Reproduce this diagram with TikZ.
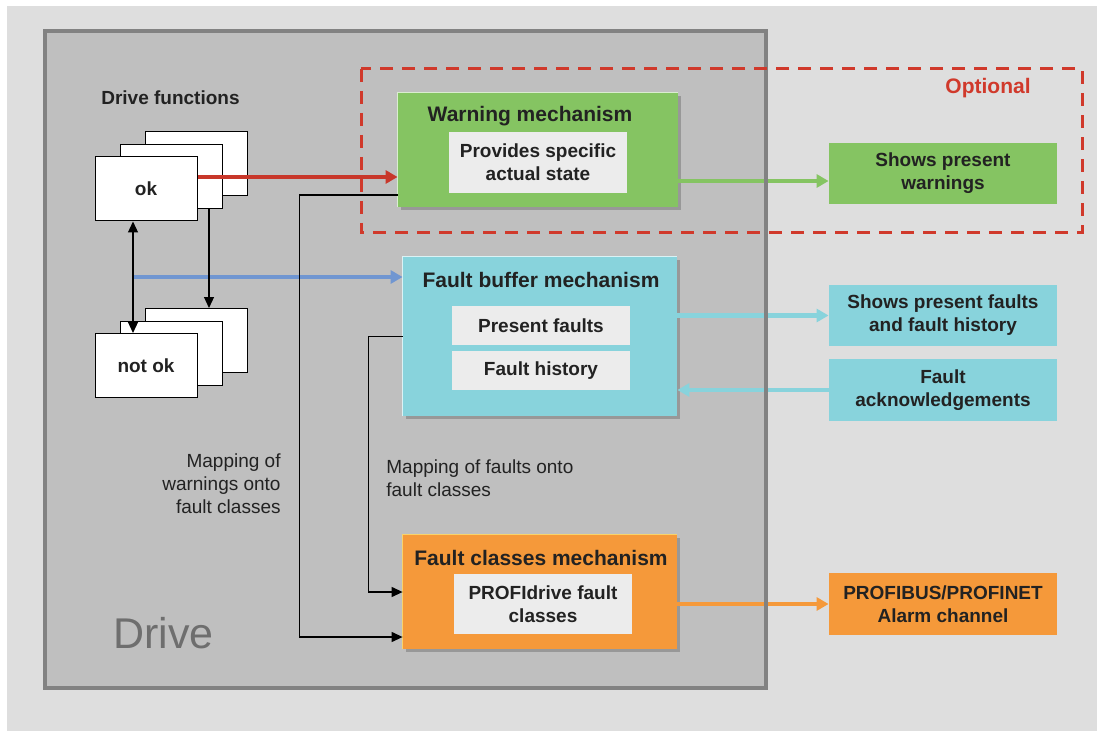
\documentclass[tikz,border=0pt]{standalone}
\usepackage{fontspec}
\setmainfont{Liberation Sans}
\usetikzlibrary{arrows.meta,shadows}

\definecolor{bgback}{HTML}{DEDEDE}
\definecolor{drivefill}{HTML}{BFBFBF}
\definecolor{driveborder}{HTML}{828282}
\definecolor{drivegray}{HTML}{6E6E6E}
\definecolor{textdark}{HTML}{222222}
\definecolor{innergray}{HTML}{ECECEC}
\definecolor{warngreen}{HTML}{85C462}
\definecolor{faultcyan}{HTML}{88D3DC}
\definecolor{classorange}{HTML}{F5993A}
\definecolor{optred}{HTML}{D0392B}
\definecolor{arrowred}{HTML}{C8372A}
\definecolor{arrowblue}{HTML}{7096D1}

\newcommand{\mechtitlefont}{\fontsize{10.5}{12.6}\selectfont\bfseries}
\newcommand{\boxtextfont}{\fontsize{9.5}{11.5}\selectfont\bfseries}
\newcommand{\maptextfont}{\fontsize{9.5}{11.5}\selectfont}

\begin{document}
\begin{tikzpicture}[x=0.5pt,y=-0.5pt,
  stacknode/.style={rectangle, draw=black, line width=0.5pt, fill=white, minimum width=51pt, minimum height=32pt, font=\boxtextfont, text=textdark},
  mechnode/.style={rectangle, minimum width=137pt, minimum height=57pt, drop shadow={shadow xshift=1.5pt, shadow yshift=-1.5pt, opacity=0.2, fill=black}},
  titlenode/.style={font=\mechtitlefont, text=textdark, inner sep=0pt},
  innernode/.style={rectangle, fill=innergray, minimum width=89pt, minimum height=30.5pt, align=center, font=\boxtextfont, text=textdark, inner sep=0pt},
  outnode/.style={rectangle, minimum width=114pt, minimum height=31pt, align=center, font=\boxtextfont, text=textdark, inner sep=0pt},
  maplabel/.style={font=\maptextfont, text=textdark, inner sep=0pt},
  plainarrow/.style={-{Triangle[length=5.5pt,width=5pt]}, line width=0.6pt},
  fatarrow/.style={-{Triangle[length=6pt,width=6.5pt]}, line width=2.4pt},
]

\useasboundingbox (0,0) rectangle (1099,733);
\fill[white] (0,0) rectangle (1099,733);
\fill[bgback] (7,6) rectangle (1097,731);
\fill[drivefill] (45,31) rectangle (766,688);

\node[font=\boxtextfont, text=textdark] (funcs) at (170.5,98) {Drive functions};
\node[anchor=base west, font=\fontsize{21.5}{24}\selectfont, text=drivegray, inner sep=0pt] (drivelabel) at (113,648) {Drive};
\node[font=\mechtitlefont, text=optred] (optlabel) at (988,88) {Optional};

\node[stacknode] (ok3) at (196.5,163.5) {};
\node[stacknode] (ok2) at (171.5,176.5) {};
\node[stacknode] (ok) at (146,189) {ok};
\node[stacknode] (notok3) at (196.5,340.5) {};
\node[stacknode] (notok2) at (171.5,353) {};
\node[stacknode] (notok) at (146,365.5) {not ok};

\node[mechnode, fill=warngreen, minimum width=140pt] (warn) at (538,150) {};
\node[mechnode, fill=faultcyan, minimum height=79.5pt] (buffer) at (540,336.5) {};
\node[mechnode, fill=classorange] (classes) at (540,592) {};
\draw[white!70!warngreen, line width=0.8pt] (warn.south west) |- (warn.north east);
\draw[white!70!faultcyan, line width=0.8pt] (buffer.south west) |- (buffer.north east);
\draw[white!55!yellow!60!classorange, line width=0.8pt] (classes.south west) |- (classes.north east);

\node[titlenode] (warntitle) at (530,116) {Warning mechanism};
\node[innernode] (warnstate) at (538,162.5) {Provides specific\\actual state};
\node[titlenode] (buffertitle) at (541,280) {Fault buffer mechanism};
\node[innernode, minimum height=19.5pt] (present) at (541,325.5) {Present faults};
\node[innernode, minimum height=19.5pt] (history) at (541,370.5) {Fault history};
\node[titlenode] (classtitle) at (541,558) {Fault classes mechanism};
\node[innernode, minimum height=30pt] (profi) at (543,604) {PROFIdrive fault\\classes};

\node[outnode, fill=warngreen, minimum height=30.5pt] (showwarn) at (943,173.5) {Shows present\\warnings};
\node[outnode, fill=faultcyan, minimum height=30.5pt] (showfaults) at (943,315.5) {Shows present faults\\and fault history};
\node[outnode, fill=faultcyan] (faultack) at (943,390) {Fault\\acknowledgements};
\node[outnode, fill=classorange] (alarm) at (943,604) {PROFIBUS/PROFINET\\Alarm channel};

\node[maplabel, anchor=east, align=right] (mapwarn) at (281,484) {Mapping of\\warnings onto\\fault classes};
\node[maplabel, anchor=west, align=left] (mapfault) at (386,478) {Mapping of faults onto\\fault classes};

\coordinate (split) at (133,277);

\draw[fatarrow, arrowblue] (split) -- (split -| buffer.west);
\draw[fatarrow, arrowred] ([yshift=6pt]ok.east) -- ([yshift=6pt]ok.east -| warn.west);
\draw[fatarrow, warngreen] ([yshift=-15.5pt]warn.east) -- ([yshift=-15.5pt]warn.east -| showwarn.west);
\draw[fatarrow, faultcyan] (buffer.east |- showfaults.west) -- (showfaults.west);
\draw[fatarrow, faultcyan] (faultack.west) -- (faultack.west -| buffer.east);
\draw[fatarrow, classorange] (classes.east |- alarm.west) -- (alarm.west);

\draw[plainarrow] ([yshift=-22.5pt]warn.west) -- ++(-49pt,0) |- ([yshift=-22.5pt]classes.west);
\draw[plainarrow] (buffer.west) -- ++(-17pt,0) |- (classes.west);
\draw[{Triangle[length=5.5pt,width=5pt]}-{Triangle[length=5.5pt,width=5pt]}, line width=0.6pt] ([xshift=-6.5pt]ok.south) -- ([xshift=-6.5pt]notok.north);
\draw[plainarrow] ([xshift=18.75pt]ok2.south) -- ([xshift=18.75pt]ok2.south |- notok3.north);

\draw[driveborder, line width=2pt] (45,31) rectangle (766,688);
\draw[optred, line width=1.5pt, dash pattern=on 6.5pt off 4.5pt] (361,69) rectangle (1082,233);

\end{tikzpicture}
\end{document}
